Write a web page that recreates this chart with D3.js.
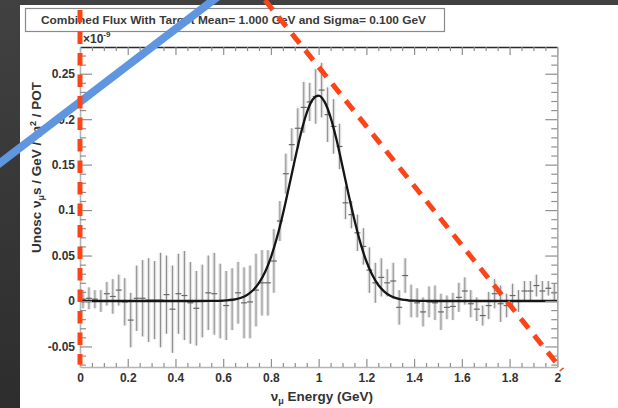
<!DOCTYPE html>
<html><head><meta charset="utf-8">
<script src="https://cdn.jsdelivr.net/npm/d3@7"></script>
<style>html,body{margin:0;padding:0;background:#333;overflow:hidden}</style>
</head><body><svg id="c" width="618" height="408"></svg>
<script>
// ---------- data ----------
const binWidth = 0.025; // GeV, 80 bins from 0 to 2
const fluxValues = [
  0.002, 0.003, 0.002, 0.000, 0.008, 0.005, 0.012, -0.001, -0.021, 0.003,
  0.003, 0.001, 0.001, 0.001, 0.007, -0.009, 0.008, 0.006, -0.002, -0.008,
  0.000, 0.009, 0.008, 0.000, -0.005, 0.002, 0.009, -0.002, -0.001, 0.012,
  0.020, 0.020, 0.044, 0.088, 0.140, 0.172, 0.190, 0.213, 0.219, 0.225,
  0.232, 0.205, 0.192, 0.170, 0.108, 0.095, 0.075, 0.060, 0.034, 0.020,
  0.026, 0.020, 0.022, -0.007, 0.028, 0.000, -0.002, -0.012, -0.001, -0.002,
  -0.012, -0.007, -0.006, 0.004, 0.011, -0.003, -0.009, -0.016, -0.005, 0.008,
  -0.003, -0.005, 0.006, 0.000, 0.011, 0.011, 0.017, 0.011, 0.014, 0.009
];
const fluxErrors = [
  0.010, 0.012, 0.010, 0.012, 0.013, 0.019, 0.017, 0.026, 0.030, 0.036,
  0.042, 0.046, 0.043, 0.052, 0.043, 0.048, 0.044, 0.049, 0.045, 0.041,
  0.040, 0.041, 0.045, 0.041, 0.038, 0.034, 0.034, 0.039, 0.040, 0.040,
  0.036, 0.036, 0.035, 0.022, 0.022, 0.018, 0.022, 0.028, 0.021, 0.030,
  0.030, 0.030, 0.030, 0.025, 0.018, 0.015, 0.020, 0.020, 0.025, 0.022,
  0.021, 0.015, 0.020, 0.019, 0.019, 0.018, 0.016, 0.016, 0.017, 0.019,
  0.020, 0.013, 0.015, 0.016, 0.015, 0.015, 0.013, 0.011, 0.015, 0.016,
  0.020, 0.013, 0.013, 0.012, 0.011, 0.011, 0.012, 0.011, 0.008, 0.010
];
const fitEnergy = [0, 0.5, 0.55, 0.575, 0.6, 0.625, 0.65, 0.675, 0.7, 0.725, 0.75, 0.775,
  0.8, 0.825, 0.85, 0.875, 0.9, 0.925, 0.95, 0.975, 1.0, 1.025, 1.05, 1.075, 1.1, 1.125,
  1.15, 1.175, 1.2, 1.225, 1.25, 1.275, 1.3, 1.325, 1.35, 1.375, 1.4, 1.425, 1.45, 1.5, 2.0];
const fitFlux = [0, 0, 0.0001, 0.0002, 0.0004, 0.0009, 0.0019, 0.0036, 0.0067, 0.0118, 0.0199, 0.0317,
  0.0481, 0.0695, 0.0955, 0.1249, 0.155, 0.1838, 0.207, 0.2217, 0.226, 0.219, 0.202, 0.1773, 0.148, 0.1176,
  0.089, 0.0639, 0.0437, 0.0285, 0.0176, 0.0104, 0.0058, 0.0031, 0.0016, 0.0008, 0.00035, 0.0002, 0.0001, 0, 0];
const xTicks = [0, 0.2, 0.4, 0.6, 0.8, 1, 1.2, 1.4, 1.6, 1.8, 2];
const xMinorTicks = [0.05,0.1,0.15,0.25,0.3,0.35,0.45,0.5,0.55,0.65,0.7,0.75,0.85,0.9,0.95,
  1.05,1.1,1.15,1.25,1.3,1.35,1.45,1.5,1.55,1.65,1.7,1.75,1.85,1.9,1.95];
const yTicks = [-0.05, 0, 0.05, 0.1, 0.15, 0.2, 0.25];
const yMinorTicks = [-0.07,-0.06,-0.04,-0.03,-0.02,-0.01,0.01,0.02,0.03,0.04,0.06,0.07,0.08,0.09,
  0.11,0.12,0.13,0.14,0.16,0.17,0.18,0.19,0.21,0.22,0.23,0.24,0.26,0.27];
const titleText = "Combined Flux With Target Mean= 1.000 GeV and Sigma= 0.100 GeV";
// overlay guide lines, in data units (energy, flux)
const redGuides = [
  {e1: 0, f1: 0.320, e2: 0, f2: -0.070},
  {e1: 0.775, f1: 0.331, e2: 2.02, f2: -0.0759}
];
const blueGuide = {e1: -0.377, f1: 0.1434, e2: 0.586, f2: 0.3365};

// ---------- drawing ----------
const svg = d3.select("#c");
const FONT = "'Liberation Sans', Arial, Helvetica, sans-serif";
const defs = svg.append("defs");
const grad = defs.append("linearGradient").attr("id","bg").attr("x1",0).attr("y1",0).attr("x2",0).attr("y2",1);
grad.append("stop").attr("offset","0%").attr("stop-color","#414141");
grad.append("stop").attr("offset","100%").attr("stop-color","#2d2d2d");
svg.append("rect").attr("width",618).attr("height",408).attr("fill","url(#bg)");
svg.append("rect").attr("x",20).attr("y",5).attr("width",598).attr("height",403).attr("fill","#fff");

const m = {l: 80, r: 557.3, t: 47, b: 367};
const x = d3.scaleLinear().domain([0, 2]).range([m.l, m.r]);
const y = d3.scaleLinear().domain([-0.0726, 0.2794]).range([m.b, m.t]);

// title box
svg.append("rect").attr("x",25.5).attr("y",8.5).attr("width",419).attr("height",23)
  .attr("fill","#fff").attr("stroke","#8a8a8a").attr("stroke-width",1.2);
svg.append("text").attr("x",41).attr("y",24).attr("font-family",FONT).attr("font-weight","bold")
  .attr("font-size",10.5).attr("fill","#3a3a3a").attr("textLength",385).attr("lengthAdjust","spacingAndGlyphs")
  .text(titleText);

const bins = fluxValues.map((v, i) => ({e: (i + 0.5) * binWidth, v, err: fluxErrors[i]}));
const plot = svg.append("g");
plot.selectAll("rect.eb").data(bins).join("rect").attr("class","eb")
  .attr("x", d => x(d.e) - 1.8).attr("width", 3.6)
  .attr("y", d => y(d.v + d.err)).attr("height", d => y(d.v - d.err) - y(d.v + d.err))
  .attr("fill", "#e3e3e3");
plot.selectAll("line.el").data(bins).join("line").attr("class","el")
  .attr("x1", d => x(d.e)).attr("x2", d => x(d.e))
  .attr("y1", d => y(d.v + d.err)).attr("y2", d => y(d.v - d.err))
  .attr("stroke", "#8c8c8c").attr("stroke-width", 1);
plot.selectAll("line.mk").data(bins).join("line").attr("class","mk")
  .attr("x1", d => x(d.e - binWidth / 2)).attr("x2", d => x(d.e + binWidth / 2))
  .attr("y1", d => y(d.v)).attr("y2", d => y(d.v))
  .attr("stroke", "#666").attr("stroke-width", 1.2);

const fit = fitEnergy.map((e, i) => [e, fitFlux[i]]);
plot.append("path").datum(fit)
  .attr("d", d3.line().x(d => x(d[0])).y(d => y(d[1])).curve(d3.curveMonotoneX))
  .attr("fill","none").attr("stroke","#151515").attr("stroke-width",2.3);

// axes
const fmt = d => String(+(+d).toFixed(2));
function styleAxis(g, domainColor) {
  g.select(".domain").attr("stroke", domainColor).attr("stroke-width", 1.6);
  g.selectAll(".tick line").attr("stroke", "#8f8f8f").attr("stroke-width", 1.2);
  g.selectAll(".tick text").attr("font-family", FONT).attr("font-weight", "bold")
    .attr("font-size", 12).attr("fill", "#333");
}
const gB = svg.append("g").attr("transform", `translate(0,${m.b})`)
  .call(d3.axisBottom(x).tickValues(xTicks).tickSize(-8).tickSizeOuter(0).tickPadding(6).tickFormat(fmt));
styleAxis(gB, "#b5b5b5");
const gBm = svg.append("g").attr("transform", `translate(0,${m.b})`)
  .call(d3.axisBottom(x).tickValues(xMinorTicks).tickSize(-4).tickSizeOuter(0).tickFormat(""));
styleAxis(gBm, "none");
const gT = svg.append("g").attr("transform", `translate(0,${m.t})`)
  .call(d3.axisTop(x).tickValues(xTicks).tickSize(-8).tickSizeOuter(0).tickFormat(""));
styleAxis(gT, "#2a2a2a");
const gTm = svg.append("g").attr("transform", `translate(0,${m.t})`)
  .call(d3.axisTop(x).tickValues(xMinorTicks).tickSize(-4).tickSizeOuter(0).tickFormat(""));
styleAxis(gTm, "none");
const gL = svg.append("g").attr("transform", `translate(${m.l},0)`)
  .call(d3.axisLeft(y).tickValues(yTicks).tickSize(-12).tickSizeOuter(0).tickPadding(5).tickFormat(fmt));
styleAxis(gL, "#b5b5b5");
const gLm = svg.append("g").attr("transform", `translate(${m.l},0)`)
  .call(d3.axisLeft(y).tickValues(yMinorTicks).tickSize(-6).tickSizeOuter(0).tickFormat(""));
styleAxis(gLm, "none");
const gR = svg.append("g").attr("transform", `translate(${m.r},0)`)
  .call(d3.axisRight(y).tickValues(yTicks).tickSize(-12).tickSizeOuter(0).tickFormat(""));
styleAxis(gR, "#aaaaaa");
const gRm = svg.append("g").attr("transform", `translate(${m.r},0)`)
  .call(d3.axisRight(y).tickValues(yMinorTicks).tickSize(-6).tickSizeOuter(0).tickFormat(""));
styleAxis(gRm, "none");

// exponent label
const ex = svg.append("text").attr("x", 83).attr("y", 43).attr("font-family", FONT)
  .attr("font-weight","bold").attr("font-size",12).attr("fill","#333");
ex.append("tspan").text("\u00d710");
ex.append("tspan").attr("dy",-6).attr("font-size",8).text("-9");

// axis titles
const xt = svg.append("text").attr("x", 373).attr("y", 401).attr("text-anchor","end")
  .attr("font-family", FONT).attr("font-weight","bold").attr("font-size",13.5).attr("fill","#333");
xt.append("tspan").text("\u03bd");
xt.append("tspan").attr("dy",3).attr("font-size",9).text("\u03bc");
xt.append("tspan").attr("dy",-3).text(" Energy (GeV)");

const yt = svg.append("text").attr("transform","translate(41,82) rotate(-90)").attr("text-anchor","end")
  .attr("font-family", FONT).attr("font-weight","bold").attr("font-size",13.5).attr("fill","#333");
yt.append("tspan").text("Unosc \u03bd");
yt.append("tspan").attr("dy",3).attr("font-size",9).text("\u03bc");
yt.append("tspan").attr("dy",-3).text("s / GeV / m");
yt.append("tspan").attr("dy",-5).attr("font-size",9).text("2");
yt.append("tspan").attr("dy",5).text(" / POT");

// overlay guides
svg.append("line").attr("x1", x(blueGuide.e1)).attr("y1", y(blueGuide.f1))
  .attr("x2", x(blueGuide.e2)).attr("y2", y(blueGuide.f2))
  .attr("stroke","#6096e0").attr("stroke-width",8);
svg.selectAll("line.red").data(redGuides).join("line").attr("class","red")
  .attr("x1", d => x(d.e1)).attr("y1", d => y(d.f1)).attr("x2", d => x(d.e2)).attr("y2", d => y(d.f2))
  .attr("stroke","#fb4519").attr("stroke-width",5).attr("stroke-dasharray","12.5,9");
</script></body></html>
